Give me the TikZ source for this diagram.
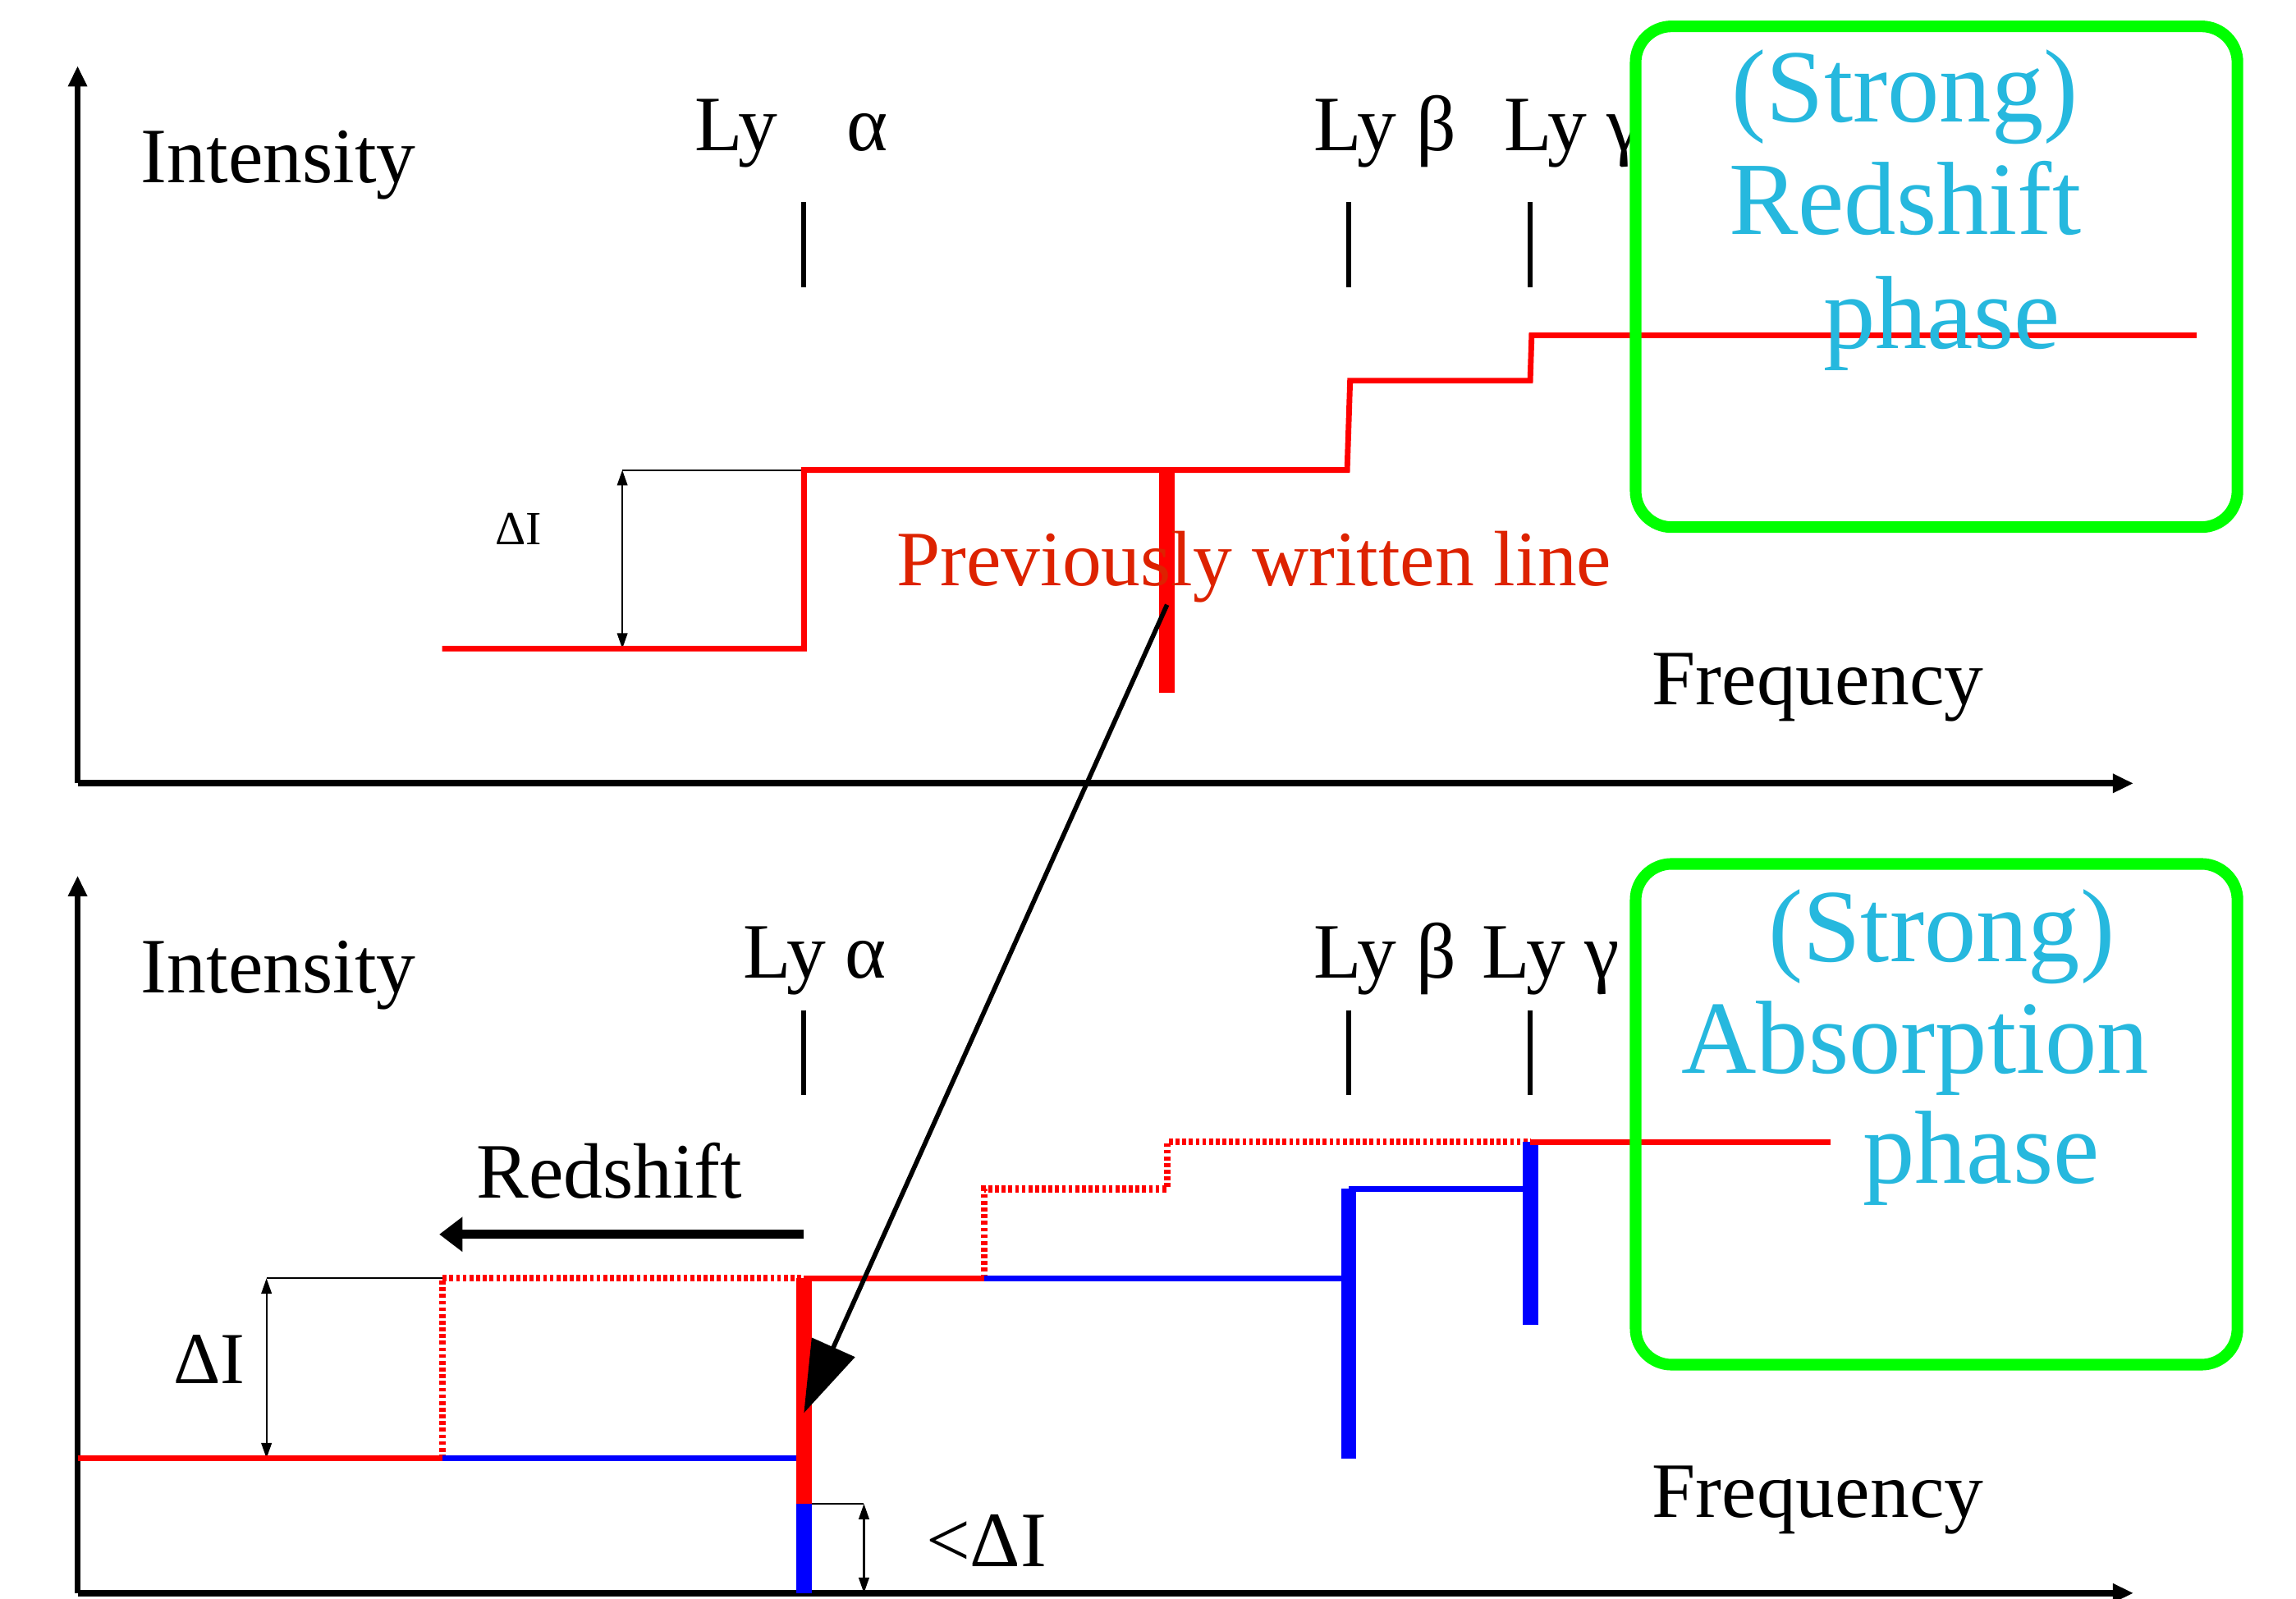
\documentclass[tikz,border=0pt]{standalone}
\usepackage{fontspec}
\setmainfont{Liberation Serif}
\usetikzlibrary{arrows.meta}
\definecolor{lyred}{RGB}{255,0,0}
\definecolor{lyblue}{RGB}{0,0,255}
\definecolor{boxgreen}{RGB}{0,255,0}
\definecolor{phasecyan}{RGB}{38,184,222}
\definecolor{notered}{RGB}{221,34,0}
\tikzset{
  axis/.style={line width=2.5pt,-{Triangle[length=8pt,width=7pt]}},
  spec/.style={lyred,line width=2.2pt},
  specdot/.style={lyred,line width=2.6pt,dash pattern=on 1.5pt off 1.1pt},
  absorb/.style={lyblue,line width=2.2pt},
  barred/.style={lyred,line width=6pt},
  barblue/.style={lyblue,line width=6pt},
  linetick/.style={line width=2pt},
  dimline/.style={line width=0.7pt},
  dimarrow/.style={line width=0.7pt,{Triangle[length=6pt,width=4pt]}-{Triangle[length=6pt,width=4pt]}},
  lbl/.style={font=\fontsize{30.5}{34}\selectfont,inner sep=0pt,anchor=base west},
  phasebox/.style={draw=boxgreen,line width=4.5pt,rounded corners=14pt},
  phasetxt/.style={text=phasecyan,font=\fontsize{40.4}{44}\selectfont,inner sep=0pt,anchor=base},
}
\begin{document}
\begin{tikzpicture}[x=0.02cm,y=-0.02cm]
\useasboundingbox (0,0) rectangle (1568,1092);

% ---------------- upper panel: emission phase ----------------
\coordinate (o1) at (53,535);
\draw[axis] (o1) -- (53,45);
\draw[axis] (o1) -- (1457,535);
\node[lbl] (int1) at (96,125) {Intensity};
\node[lbl] (fr1) at (1128,481) {Frequency};

\node[lbl] (la1) at (474,103) {Ly\hspace{27pt}α};
\node[lbl] (lb1) at (897,103) {Ly β};
\node[lbl] (lg1) at (1027,103) {Ly γ};
\draw[linetick] (549,138) -- (549,196);
\draw[linetick] (921,138) -- (921,196);
\draw[linetick] (1045,138) -- (1045,196);

% interval marker
\draw[dimline] (425,321) -- (549,321);
\draw[dimarrow] (425,321) -- (425,443);
\node[font=\fontsize{18.5}{20}\selectfont,inner sep=0pt,anchor=base west] (di1) at (338,372) {ΔI};

% staircase spectrum
\draw[spec] (302,443) -- (549,443) -- (549,321) -- (920,321) -- (922,260)
            -- (1045,260) -- (1046,229) -- (1113,229);
\draw[barred] (797,321) -- (797,473);
\coordinate (src) at (797,413);
\node[lbl,text=notered] (prev) at (612,400) {Previously written line};

% box of the upper phase
\fill[white,rounded corners=14pt] (1117,18) rectangle (1528,360);
\draw[spec] (1113,229) -- (1500,229);
\draw[phasebox] (1117,18) rectangle (1528,360);
\node[phasetxt] (s1) at (1301,83) {(Strong)};
\node[phasetxt] (r1) at (1301,160) {Redshift};
\node[phasetxt] (p1) at (1326,238) {phase};

% ---------------- lower panel: absorption phase ----------------
\coordinate (o2) at (53,1088);
\draw[axis] (o2) -- (53,598);
\draw[axis] (o2) -- (1457,1088);
\node[lbl] (int2) at (96,678) {Intensity};
\node[lbl] (fr2) at (1128,1036) {Frequency};

\node[lbl] (la2) at (507,668) {Ly α};
\node[lbl] (lb2) at (897,668) {Ly β};
\node[lbl] (lg2) at (1012,668) {Ly γ};
\draw[linetick] (549,690) -- (549,748);
\draw[linetick] (921,690) -- (921,748);
\draw[linetick] (1045,690) -- (1045,748);

% shift direction
\node[lbl] (rs) at (325,818) {Redshift};
\coordinate (rsA) at (549,843);
\coordinate (rsB) at (300,843);
\draw[line width=3.6pt,-{Triangle[length=9pt,width=13pt]}] (rsA) -- (rsB);

% intervals
\draw[dimline] (182,873) -- (302,873);
\draw[dimarrow] (182,873) -- (182,996);
\node[lbl,font=\fontsize{28.5}{30}\selectfont] (di2) at (118,945) {ΔI};
\draw[dimline] (549,1027) -- (590,1027);
\draw[dimarrow] (590,1027) -- (590,1088);
\node[lbl] (di3) at (632,1070) {<ΔI};

% shifted spectrum (dotted = before shift)
\draw[specdot] (302,996) -- (302,873) -- (549,873);
\draw[specdot] (672,873) -- (672,812) -- (797,812) -- (797,780) -- (1045,780);
\draw[spec] (53,996) -- (302,996);
\draw[absorb] (302,996) -- (549,996);
\draw[spec] (549,873) -- (672,873);
\draw[absorb] (672,873) -- (921,873);
\draw[absorb] (921,812) -- (1045,812);
\draw[barred] (549,873) -- (549,1027);
\draw[barblue] (549,1027) -- (549,1088);
\draw[barblue] (921,812) -- (921,996);
\draw[barblue] (1045,780) -- (1045,905);
\coordinate (dst) at (549,965);

% box of the lower phase
\fill[white,rounded corners=14pt] (1117,590) rectangle (1528,932);
\draw[spec] (1045,780) -- (1250,780);
\draw[phasebox] (1117,590) rectangle (1528,932);
\node[phasetxt] (s2) at (1326,657) {(Strong)};
\node[phasetxt] (a2) at (1308,733) {Absorption};
\node[phasetxt] (p2) at (1353,808) {phase};

% previously written line carried into the lower spectrum
\draw[line width=1.8pt,-{Triangle[length=28pt,width=18pt]}] (src) -- (dst);
\end{tikzpicture}
\end{document}
